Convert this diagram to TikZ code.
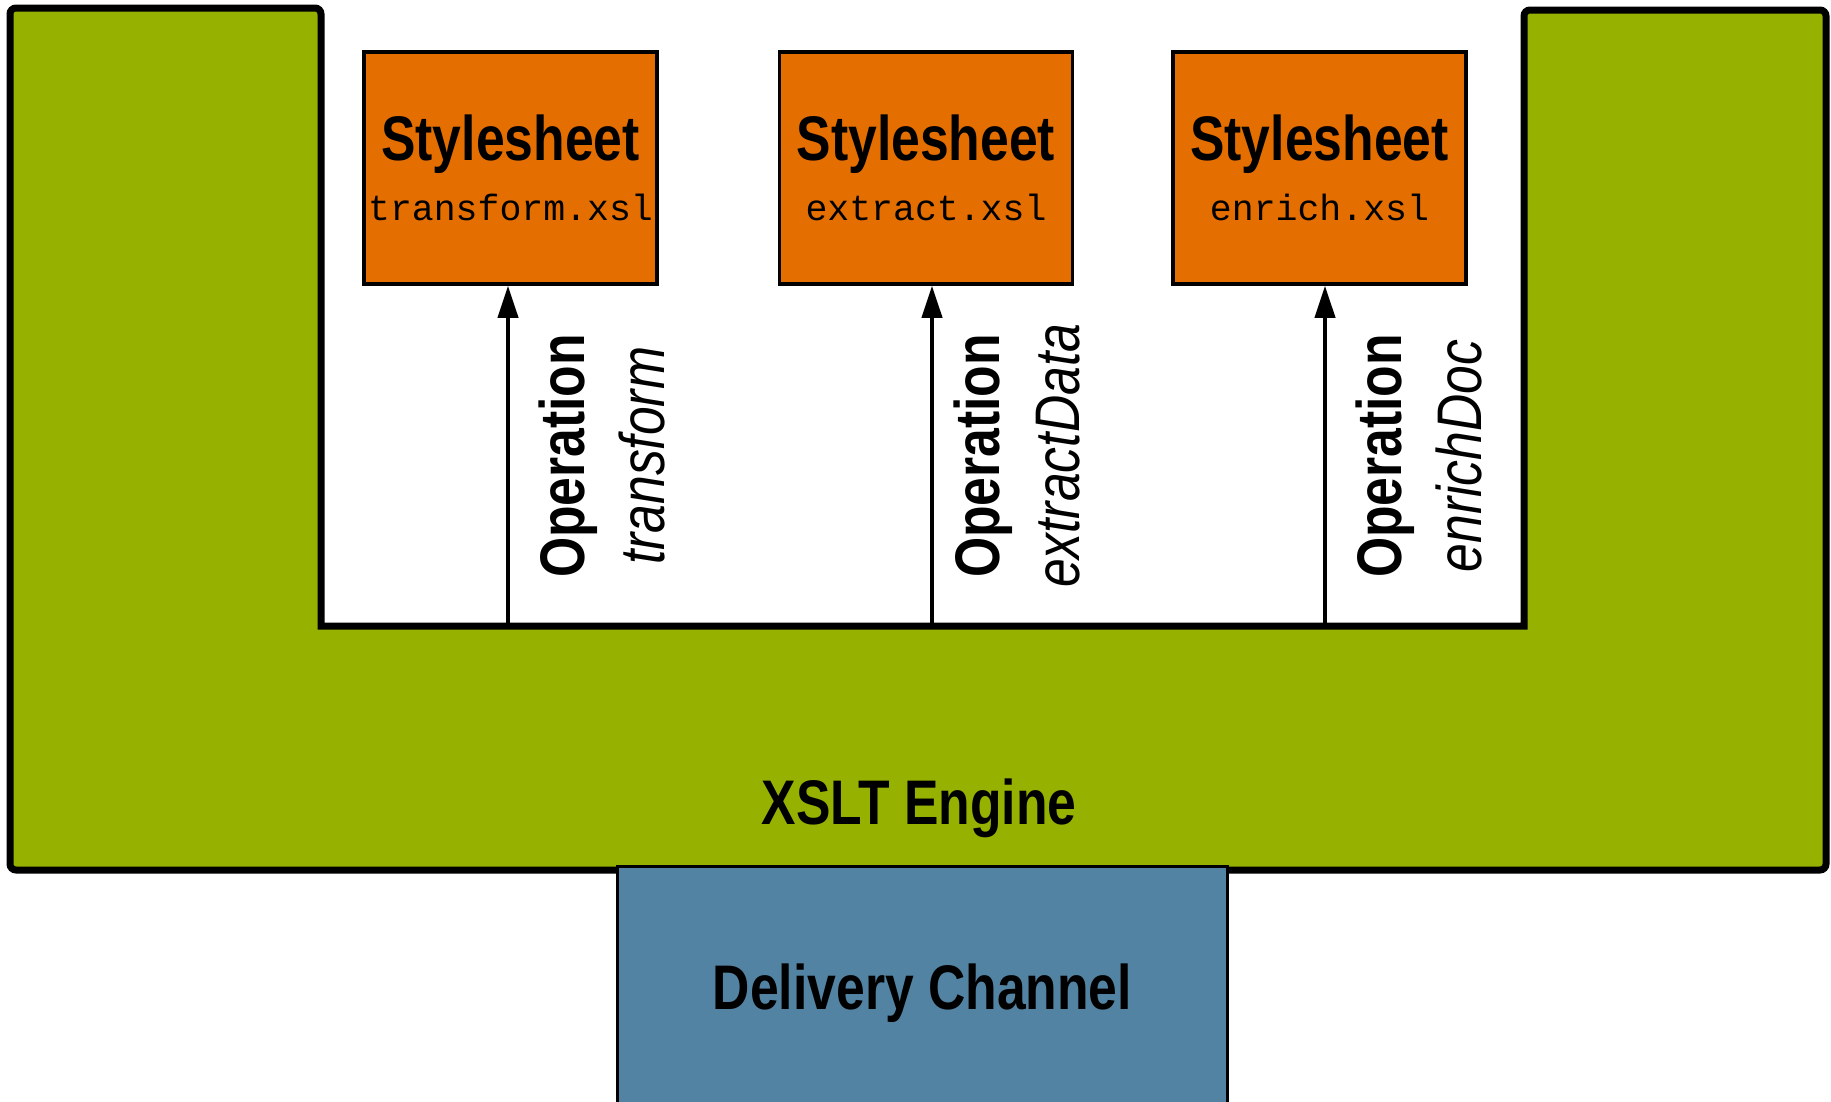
\documentclass[tikz,border=0pt]{standalone}
\usepackage{fontspec}
\usetikzlibrary{arrows.meta}
\newfontfamily\narrowsans[FakeStretch=0.82]{Liberation Sans}
\newfontfamily\xslmono{Liberation Mono}
\definecolor{enginegreen}{RGB}{150,177,0}
\definecolor{sheetorange}{RGB}{229,110,0}
\definecolor{channelblue}{RGB}{83,131,163}
\newcommand{\xslfile}[1]{{\xslmono\mdseries\fontsize{36.5}{40}\selectfont #1}}
\tikzset{
  sheet/.style={draw,line width=3.5pt,fill=sheetorange,minimum width=293pt,minimum height=232pt,
    inner sep=0pt,align=center,font=\fontsize{63}{60}\selectfont\narrowsans\bfseries},
  oplabel/.style={rotate=90,align=center,font=\fontsize{63}{80}\selectfont\narrowsans},
  title/.style={font=\fontsize{63}{70}\selectfont\narrowsans\bfseries},
  call/.style={line width=4pt,-{Triangle[length=32pt,width=20pt]}}
}
\begin{document}
\begin{tikzpicture}[x=1pt,y=-1pt]
            \useasboundingbox(0,0)rectangle(1831,1101);
            \draw[fill=enginegreen,line width=7pt,rounded corners=6pt](10,8)--(321,8)[sharp corners]--(321,626)--(1524,626)[rounded corners=6pt]--(1524,10)--(1826,10)--(1826,870)--(10,870)--cycle;
            \node[title](e)at(919,808){XSLT Engine};
            \node[title,draw,line width=3pt,fill=channelblue,minimum width=610pt,minimum height=254pt](d)at(922.5,993){Delivery Channel};
            \node[sheet](s1)at(510.5,168){Stylesheet\\\xslfile{transform.xsl}};
            \node[sheet](s2)at(926,168){Stylesheet\\\xslfile{extract.xsl}};
            \node[sheet](s3)at(1319.5,168){Stylesheet\\\xslfile{enrich.xsl}};
            \coordinate(a1)at(508,626);
            \coordinate(a2)at(932,626);
            \coordinate(a3)at(1325,626);
            \draw[call](a1)--(a1|-s1.south)node[midway,xshift=93.5pt,oplabel]{{\bfseries Operation}\\{\itshape transform}};
            \draw[call](a2)--(a2|-s2.south)node[midway,xshift=84.5pt,oplabel]{{\bfseries Operation}\\{\itshape extractData}};
            \draw[call](a3)--(a3|-s3.south)node[midway,xshift=93.5pt,oplabel]{{\bfseries Operation}\\{\itshape enrichDoc}};
        \end{tikzpicture}
\end{document}
